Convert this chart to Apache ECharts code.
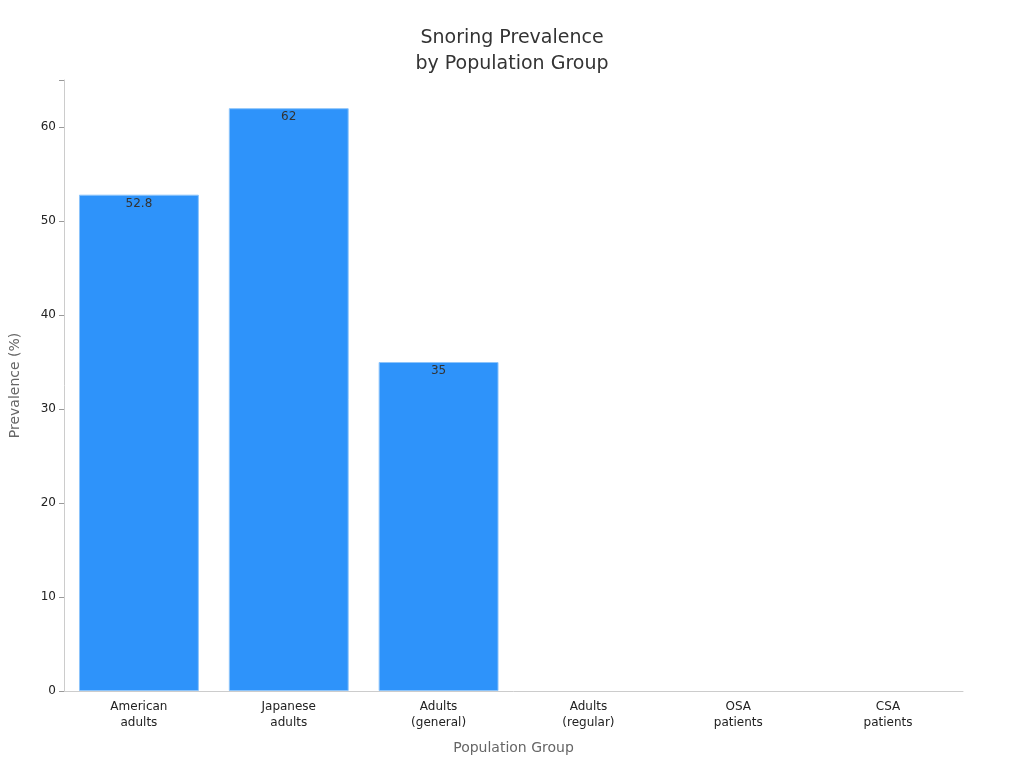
<!DOCTYPE html>
<html><head><meta charset="utf-8">
<script src="https://cdn.jsdelivr.net/npm/echarts@6/dist/echarts.min.js"></script>
<style>html,body{margin:0;padding:0;background:#fff}#c{width:1024px;height:768px}</style>
</head><body><div id="c"></div>
<script>
const categories = ["American\nadults","Japanese\nadults","Adults\n(general)","Adults\n(regular)","OSA\npatients","CSA\npatients"];
const prevalence = [52.8, 62, 35, null, null, null];
const yTicks = {min:0, max:65, interval:10};
const chart = echarts.init(document.getElementById('c'));
chart.setOption({
  textStyle:{fontFamily:'DejaVu Sans'},
  title:{text:'Snoring Prevalence\nby Population Group',left:'center',top:20,
    textStyle:{fontSize:19,fontWeight:'normal',color:'#333',lineHeight:26,fontFamily:'DejaVu Sans'}},
  grid:{left:60,right:61,top:80,bottom:77},
  xAxis:{type:'category',data:categories,name:'Population Group',nameLocation:'middle',nameGap:50,
    nameTextStyle:{fontSize:14,color:'#666'},
    axisLine:{lineStyle:{color:'#ccc'}},axisTick:{show:false},
    axisLabel:{fontSize:12,color:'#222',lineHeight:16}},
  yAxis:{type:'value',min:yTicks.min,max:yTicks.max,interval:yTicks.interval,
    name:'Prevalence (%)',nameLocation:'middle',nameGap:42,nameTextStyle:{fontSize:14,color:'#666'},
    axisLine:{show:true,lineStyle:{color:'#ccc'}},axisTick:{show:true,lineStyle:{color:'#999'}},
    splitLine:{show:false},axisLabel:{fontSize:12,color:'#222',
      formatter:v=>v%10===0?v:''}},
  series:[{type:'bar',data:prevalence,barCategoryGap:'20%',
    itemStyle:{color:'#2E93FA',borderColor:'#8cc4fb',borderWidth:1},
    label:{show:true,position:'insideTop',offset:[0,-2],color:'#333',fontSize:12}}]
});
</script></body></html>
